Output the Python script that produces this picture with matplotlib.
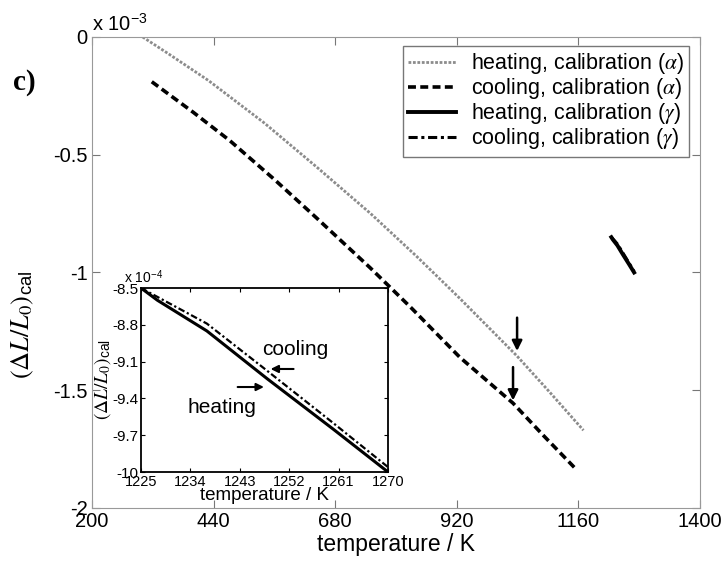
import matplotlib
matplotlib.use("Agg")
import matplotlib.pyplot as plt
from matplotlib.ticker import FuncFormatter

plt.rcParams['font.family'] = ['Liberation Sans', 'DejaVu Sans']
plt.rcParams['mathtext.fontset'] = 'stix'

# main plot data, strain in units of 1e-3
heat_a_T = [300, 350, 430, 540, 645, 750, 840, 926, 1039, 1100, 1170]
heat_a_y = [0.0, -0.07, -0.185, -0.365, -0.555, -0.75, -0.93, -1.11, -1.355, -1.50, -1.67]
cool_a_T = [318, 400, 472, 560, 644, 749, 830, 926, 1031, 1090, 1153]
cool_a_y = [-0.19, -0.32, -0.44, -0.605, -0.77, -0.98, -1.15, -1.36, -1.555, -1.69, -1.83]

# gamma calibration (inset), strain in units of 1e-4
heat_g_T = [1225, 1228, 1237, 1248, 1260, 1270]
heat_g_y = [-8.50, -8.60, -8.85, -9.24, -9.65, -10.0]
cool_g_T = [1225, 1237, 1247, 1260, 1270]
cool_g_y = [-8.50, -8.79, -9.14, -9.60, -9.96]

labels = [r'heating, calibration ($\alpha$)', r'cooling, calibration ($\alpha$)',
          r'heating, calibration ($\gamma$)', r'cooling, calibration ($\gamma$)']

fmt = FuncFormatter(lambda v, p: '%g' % v)
ylab = r'$(\Delta L/L_0)_{\mathregular{cal}}$'

fig = plt.figure(figsize=(7.25, 5.64), dpi=100)
ax = fig.add_axes([0.1269, 0.0993, 0.8386, 0.8351])

ax.plot(heat_a_T, heat_a_y, color='#8c8c8c', ls=(0, (1, 0.6)), lw=2, label=labels[0])
ax.plot(cool_a_T, cool_a_y, color='black', ls=(0, (2.2, 1.2)), lw=2.6, label=labels[1])
ax.plot(heat_g_T, [v / 10 for v in heat_g_y], color='black', lw=2.8, label=labels[2])
ax.plot(cool_g_T, [v / 10 for v in cool_g_y], color='black', ls=(0, (3, 1.2, 1, 1.2)),
        lw=2.2, label=labels[3])

ax.set_xlim(200, 1400)
ax.set_ylim(-2, 0)
ax.set_xticks([200, 440, 680, 920, 1160, 1400])
ax.set_yticks([-2, -1.5, -1, -0.5, 0])
ax.yaxis.set_major_formatter(fmt)
ax.tick_params(direction='in', top=True, right=True, labelsize=14.5, length=6,
               color='#777777', pad=3)
for s in ax.spines.values():
    s.set_color('#999999')
ax.set_xlabel('temperature / K', fontsize=16.5, labelpad=1)
ax.text(0.0, 1.004, r'x 10$^{\mathregular{-3}}$', transform=ax.transAxes, fontsize=14.5,
        ha='left', va='bottom')

# arrows marking the kink
ax.annotate('', xy=(1039, -1.345), xytext=(1039, -1.18),
            arrowprops=dict(arrowstyle='-|>', color='black', lw=1.8, mutation_scale=15))
ax.annotate('', xy=(1031, -1.555), xytext=(1031, -1.39),
            arrowprops=dict(arrowstyle='-|>', color='black', lw=1.8, mutation_scale=15))

leg = ax.legend(loc='upper right', bbox_to_anchor=(0.9895, 0.99), fontsize=15.5,
                handlelength=2.2, handletextpad=0.7, labelspacing=0.0,
                borderpad=0.25, borderaxespad=0.2, fancybox=False, framealpha=1)
leg.get_frame().set_edgecolor('#777777')
leg.get_frame().set_linewidth(1.0)

fig.text(0.018, 0.853, 'c)', family='Liberation Serif', weight='bold', fontsize=21,
         ha='left', va='center')
fig.text(0.031, 0.425, ylab, rotation=90, fontsize=19, ha='center', va='center')

# inset
ins = fig.add_axes([0.1945, 0.1631, 0.3407, 0.3262])
ins.plot(heat_g_T, heat_g_y, color='black', lw=2.2)
ins.plot(cool_g_T, cool_g_y, color='black', ls=(0, (3, 1.2, 1, 1.2)), lw=1.6)
ins.set_xlim(1225, 1270)
ins.set_ylim(-10, -8.5)
ins.set_xticks([1225, 1234, 1243, 1252, 1261, 1270])
ins.set_yticks([-10, -9.7, -9.4, -9.1, -8.8, -8.5])
ins.yaxis.set_major_formatter(fmt)
ins.tick_params(axis='x', labelsize=10.5)
ins.tick_params(axis='y', labelsize=11)
ins.tick_params(direction='in', top=True, right=True, length=3, pad=2)
for s in ins.spines.values():
    s.set_linewidth(1.3)
ins.set_xlabel('temperature / K', fontsize=13.5, labelpad=-1)
ins.set_ylabel(ylab, fontsize=14, labelpad=-1)
ins.text(-0.07, 1.01, r'x 10$^{\mathregular{-4}}$', transform=ins.transAxes, fontsize=10,
         ha='left', va='bottom')
ins.text(1253.1, -9.0, 'cooling', fontsize=15, ha='center', va='center')
ins.text(1239.8, -9.47, 'heating', fontsize=15, ha='center', va='center')
ins.annotate('', xy=(1248.1, -9.16), xytext=(1253.3, -9.16),
             arrowprops=dict(arrowstyle='-|>', color='black', lw=1.5, mutation_scale=11))
ins.annotate('', xy=(1247.9, -9.307), xytext=(1242.1, -9.307),
             arrowprops=dict(arrowstyle='-|>', color='black', lw=1.5, mutation_scale=11))

fig.savefig('out.png', dpi=100)
